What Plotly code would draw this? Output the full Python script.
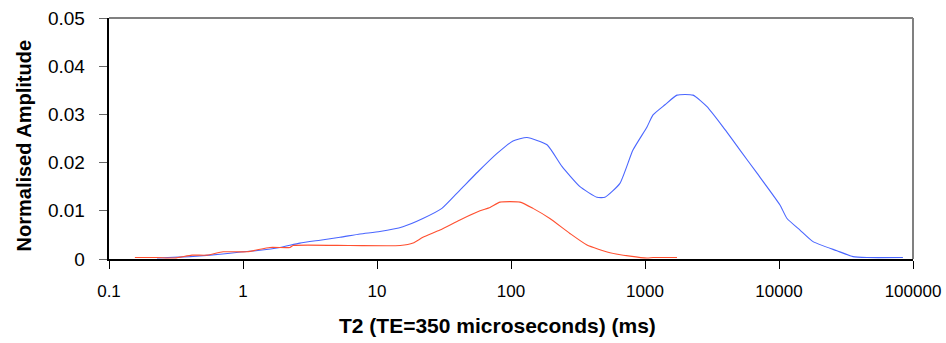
import plotly.graph_objects as go

# Blue curve (T2 in ms, normalised amplitude)
blue_t2 = [0.228, 0.40, 0.57, 0.80, 1.0, 1.34, 1.89, 2.66, 3.76, 5.30, 7.47, 10.5, 15.6, 22.0,
           30.5, 41.6, 56.7, 78.7, 103.5, 131.6, 185.7, 240, 327, 438, 502, 650, 813, 1035,
           1148, 1410, 1733, 2281, 2902, 3819, 5117, 6855, 10170, 11480, 14350, 17950,
           27100, 35650, 45400, 84100]
blue_amp = [0.0002, 0.0005, 0.0008, 0.0012, 0.0015, 0.0018, 0.0024, 0.0033, 0.0039, 0.0045,
            0.0052, 0.0057, 0.0067, 0.0084, 0.0105, 0.0143, 0.0181, 0.0219, 0.0245, 0.0252,
            0.0237, 0.0192, 0.0150, 0.0128, 0.0128, 0.0157, 0.0226, 0.0274, 0.0299, 0.0320,
            0.0340, 0.0340, 0.0316, 0.0274, 0.0226, 0.0178, 0.0112, 0.0084, 0.0060, 0.0036,
            0.0017, 0.0005, 0.0003, 0.0003]

# Red curve
red_t2 = [0.156, 0.228, 0.311, 0.416, 0.54, 0.71, 1.07, 1.59, 2.24, 2.37, 6.3, 14.9, 18.6,
          22.0, 29.5, 41.6, 58.7, 69.7, 82.8, 116.7, 146, 195, 275, 369, 548, 773, 1035,
          1150, 1733]
red_amp = [0.0003, 0.0003, 0.0002, 0.0008, 0.0008, 0.0015, 0.0015, 0.0024, 0.0024, 0.0028,
           0.0028, 0.0028, 0.0033, 0.0045, 0.0060, 0.0081, 0.0100, 0.0107, 0.0118, 0.0118,
           0.0105, 0.0084, 0.0053, 0.0029, 0.0013, 0.0006, 0.0002, 0.0003, 0.0003]

x_ticks = [0.1, 1, 10, 100, 1000, 10000, 100000]
x_tick_labels = ["0.1", "1", "10", "100", "1000", "10000", "100000"]
y_ticks = [0, 0.01, 0.02, 0.03, 0.04, 0.05]
y_tick_labels = ["0", "0.01", "0.02", "0.03", "0.04", "0.05"]
x_title = "T2 (TE=350 microseconds) (ms)"
y_title = "Normalised Amplitude"

fig = go.Figure()
fig.add_trace(go.Scatter(x=blue_t2, y=blue_amp, mode="lines",
                         line=dict(color="#4a66ff", width=1.1, shape="spline", smoothing=0.5),
                         showlegend=False))
fig.add_trace(go.Scatter(x=red_t2, y=red_amp, mode="lines",
                         line=dict(color="#ff5030", width=1.1, shape="spline", smoothing=0.5),
                         showlegend=False))

font = "Liberation Sans, Arial, sans-serif"
fig.update_layout(
    width=946, height=343,
    margin=dict(l=109, r=33, t=18, b=84),
    paper_bgcolor="white", plot_bgcolor="white",
    font=dict(family=font, size=18, color="black"),
    xaxis=dict(type="log", range=[-1, 5], tickvals=x_ticks, ticktext=x_tick_labels,
               automargin=False,
               showgrid=False, zeroline=False, showline=True, linecolor="black", linewidth=1.5,
               ticks="outside", ticklen=8, tickcolor="black", tickwidth=1,
               ticklabelstandoff=8,
               tickfont=dict(size=17)),
    yaxis=dict(range=[0, 0.05], tickvals=y_ticks,
               ticktext=[t + "\u00a0\u00a0" for t in y_tick_labels],
               automargin=False,
               showgrid=False, zeroline=False, showline=True, linecolor="black", linewidth=1.5,
               ticks="outside", ticklen=8, tickcolor="#666666", tickwidth=1,
               tickfont=dict(size=19)),
    shapes=[
        dict(type="line", xref="paper", yref="paper", x0=0, x1=1, y0=1, y1=1,
             line=dict(color="#808080", width=2)),
        dict(type="line", xref="paper", yref="paper", x0=1, x1=1, y0=0, y1=1,
             line=dict(color="#808080", width=2)),
    ],
    annotations=[
        dict(text="<b>" + x_title + "</b>", xref="paper", yref="paper",
             x=0.4838, y=-0.278, xanchor="center", yanchor="middle",
             showarrow=False, font=dict(size=21)),
        dict(text="<b>" + y_title + "</b>", xref="paper", yref="paper",
             x=-0.1045, y=0.471, xanchor="center", yanchor="middle", textangle=-90,
             showarrow=False, font=dict(size=20)),
    ],
)

fig.write_html("out.html", post_script="document.body.style.margin='0';",
               config={"displayModeBar": False})
